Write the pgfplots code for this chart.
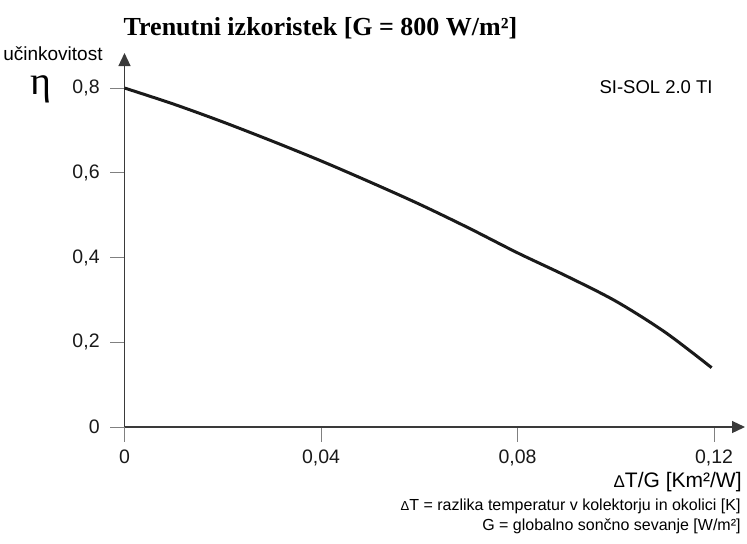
\documentclass[border=0pt]{standalone}
\usepackage{fontspec}
\setmainfont{Liberation Sans}
\newfontfamily\titlefont{Liberation Serif}
\usepackage{pgfplots}
\pgfplotsset{compat=1.18}
\usetikzlibrary{arrows.meta}
\definecolor{axcol}{HTML}{3A3A3A}
\definecolor{tickcol}{HTML}{808080}
\definecolor{curvecol}{HTML}{1A1A1A}
\begin{document}
\begin{tikzpicture}[x=0.5pt,y=0.5pt]
\path[use as bounding box] (0,0) rectangle (747,543);
\begin{axis}[
  at={(62.25pt,58pt)}, anchor=south west,
  scale only axis, width=310.25pt, height=187pt,
  xmin=0, xmax=0.1263, ymin=0, ymax=0.8826,
  axis lines=left,
  axis line style={draw=axcol, line width=0.6pt, -{Triangle[length=6.5pt,width=6pt]}},
  tick align=outside, major tick length=7.25pt,
  tick style={draw=tickcol, line width=0.5pt},
  xtick={0,0.04,0.08,0.12}, xticklabels={0,{0,04},{0,08},{0,12}},
  ytick={0,0.2,0.4,0.6,0.8}, yticklabels={0,{0,2},{0,4},{0,6},{0,8}},
  ticklabel style={font=\fontsize{9.75}{11}\selectfont, text=black!90},
  xticklabel style={anchor=north, inner sep=0pt, yshift=-4pt},
  yticklabel style={anchor=east, inner sep=0pt, xshift=-5pt},
  clip=false,
]
\addplot[curvecol, line width=1.5pt, smooth] coordinates {
(0,0.800) (0.01,0.762) (0.02,0.720) (0.03,0.675) (0.04,0.628)
(0.05,0.578) (0.06,0.526) (0.07,0.470) (0.08,0.411) (0.09,0.356)
(0.10,0.297) (0.11,0.224) (0.1195,0.140)
};
\end{axis}
\node[anchor=base, inner sep=0pt] at (320.5,508) {\titlefont\fontsize{13}{15}\selectfont\bfseries Trenutni izkoristek [G = 800 W/m²]};
\node[anchor=base east, inner sep=0pt] at (103,483) {\fontsize{9.5}{11}\selectfont učinkovitost};
\node[anchor=base, inner sep=0pt, text height=0.45em] at (41,449) {\titlefont\fontsize{20}{22}\selectfont η};
\node[anchor=base east, inner sep=0pt] at (713,450) {\fontsize{9.25}{11}\selectfont SI-SOL 2.0 TI};
\node[anchor=base east, inner sep=0pt] at (742,56) {\fontsize{10.5}{12}\selectfont {\fontsize{8.5}{9}\selectfont Δ}T/G [Km²/W]};
\node[anchor=base east, inner sep=0pt] at (741,33) {\fontsize{8}{10}\selectfont {\fontsize{6.5}{8}\selectfont Δ}T = razlika temperatur v kolektorju in okolici [K]};
\node[anchor=base east, inner sep=0pt] at (741,13) {\fontsize{8}{10}\selectfont G = globalno sončno sevanje [W/m²]};
\end{tikzpicture}
\end{document}
